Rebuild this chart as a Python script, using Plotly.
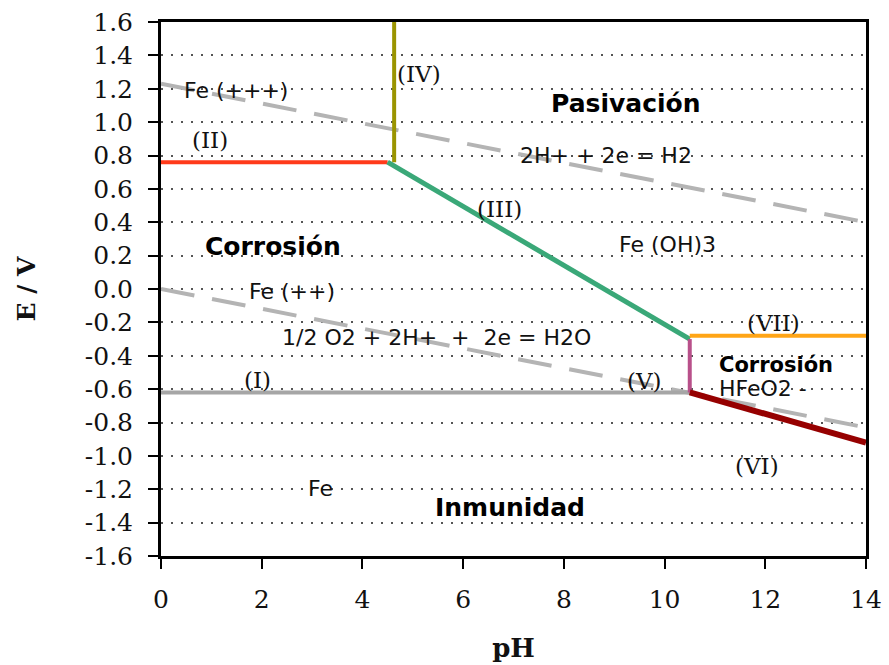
import plotly.graph_objects as go

# Pourbaix diagram for iron (E vs pH)
ph_range = [0, 14]
e_range = [-1.6, 1.6]
y_ticks = [round(-1.6 + 0.2 * i, 1) for i in range(17)]
x_ticks = [0, 2, 4, 6, 8, 10, 12, 14]

# boundary segments (pH points, E points)
line_I_ph, line_I_e = [0, 10.5], [-0.62, -0.62]
line_II_ph, line_II_e = [0, 4.5], [0.76, 0.76]
line_III_ph, line_III_e = [4.5, 10.5], [0.76, -0.3]
line_IV_ph, line_IV_e = [4.63, 4.63], [0.76, 1.6]
line_V_ph, line_V_e = [10.5, 10.5], [-0.3, -0.62]
line_VI_ph, line_VI_e = [10.5, 14], [-0.62, -0.92]
line_VII_ph, line_VII_e = [10.5, 14], [-0.28, -0.28]

# water stability lines
o2_ph, o2_e = [0, 14], [1.23, 0.40]
h2_ph, h2_e = [0, 14], [0.0, -0.83]

# labels: text, pH, E, style
labels = [
    ("Fe (+++)", 1.49, 1.19, "sans"),
    ("(IV)", 5.12, 1.29, "serif"),
    ("Pasivación", 9.23, 1.11, "bold"),
    ("(II)", 0.97, 0.893, "serif"),
    ("2H+ + 2e = H2", 8.84, 0.80, "sans"),
    ("(III)", 6.73, 0.48, "serif"),
    ("Fe (OH)3", 10.05, 0.264, "sans"),
    ("Corrosión", 2.22, 0.252, "bold"),
    ("Fe (++)", 2.6, -0.012, "sans"),
    ("1/2 O2 + 2H+  +  2e = H2O", 5.48, -0.293, "sans"),
    ("(VII)", 12.17, -0.204, "serif"),
    ("Corrosión", 12.21, -0.455, "boldsmall"),
    ("HFeO2 -", 11.95, -0.599, "sans"),
    ("(I)", 1.92, -0.545, "serif"),
    ("(V)", 9.61, -0.551, "serif"),
    ("(VI)", 11.83, -1.06, "serif"),
    ("Fe", 3.16, -1.198, "sans"),
    ("Inmunidad", 6.93, -1.312, "bold"),
]

fig = go.Figure()

for xs, ys in [(o2_ph, o2_e), (h2_ph, h2_e)]:
    fig.add_trace(go.Scatter(x=xs, y=ys, mode="lines",
                             line=dict(color="#b4b4b4", width=4, dash="34px,18px"),
                             hoverinfo="skip"))

segments = [
    (line_I_ph, line_I_e, "#a6a6a6", 4),
    (line_II_ph, line_II_e, "#ff3a1a", 4),
    (line_IV_ph, line_IV_e, "#9a9400", 4),
    (line_III_ph, line_III_e, "#3aa878", 5),
    (line_VII_ph, line_VII_e, "#ffa516", 4),
    (line_V_ph, line_V_e, "#b8508a", 4),
    (line_VI_ph, line_VI_e, "#960000", 6),
]
for xs, ys, color, width in segments:
    fig.add_trace(go.Scatter(x=xs, y=ys, mode="lines",
                             line=dict(color=color, width=width),
                             hoverinfo="skip"))

fonts = {
    "sans": dict(family="DejaVu Sans", size=22, color="#111"),
    "serif": dict(family="DejaVu Serif", size=23, color="#111"),
    "bold": dict(family="DejaVu Sans", size=25, color="#000", weight="bold"),
    "boldsmall": dict(family="DejaVu Sans", size=21, color="#000", weight="bold"),
}
for text, xv, yv, style in labels:
    fig.add_annotation(x=xv, y=yv, text=text, showarrow=False,
                       font=fonts[style], xanchor="center", yanchor="middle")

fig.update_layout(
    width=889, height=665,
    margin=dict(l=161, r=23, t=22, b=109),
    paper_bgcolor="white", plot_bgcolor="white",
    showlegend=False,
)
fig.update_xaxes(
    range=ph_range, tickvals=x_ticks, ticktext=[str(v) for v in x_ticks],
    showgrid=False, zeroline=False, automargin=False,
    showline=True, linecolor="black", linewidth=3, mirror=True,
    ticks="outside", ticklen=10, tickwidth=2, tickcolor="black",
    ticklabelstandoff=9,
    tickfont=dict(family="DejaVu Serif", size=25, color="#111"),
    title=dict(text="<b>pH</b>", font=dict(family="DejaVu Serif", size=26, color="#111"),
               standoff=26),
)
fig.update_yaxes(
    range=e_range, tickvals=y_ticks, ticktext=[f"{v:.1f}" for v in y_ticks],
    showgrid=True, gridcolor="#555555", gridwidth=1.5, griddash="2px,8px",
    zeroline=False, automargin=False,
    showline=True, linecolor="black", linewidth=3, mirror=True,
    ticks="outside", ticklen=10, tickwidth=2, tickcolor="black",
    ticklabelstandoff=10,
    tickfont=dict(family="DejaVu Serif", size=25, color="#111"),
    title=dict(text="<b>E / V</b>", font=dict(family="DejaVu Serif", size=25, color="#111"),
               standoff=43),
)

fig.write_html("out.html")
